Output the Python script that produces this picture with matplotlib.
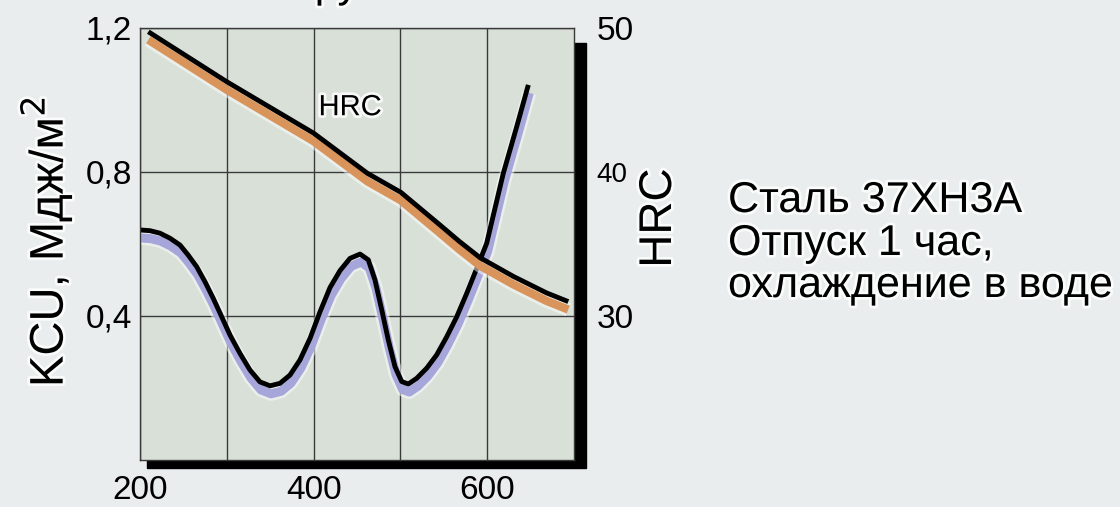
import matplotlib
matplotlib.use('Agg')
import matplotlib.pyplot as plt
import matplotlib.patheffects as pe
from matplotlib.patches import Rectangle
from matplotlib.transforms import offset_copy

plt.rcParams['font.family'] = ['Liberation Sans', 'DejaVu Sans']

# KCU vs tempering temperature
kcu_temp = [200, 211.5, 223, 234.6, 246.1, 255.6, 265.3, 274.9, 284.4, 294.1, 303.7,
            315.2, 326.7, 338.2, 349.8, 361.3, 372.8, 384.3, 395.9, 407.4, 418.9,
            430.4, 441.9, 453.5, 463.0, 470.7, 478.5, 486.1, 493.8, 501.5, 509.1,
            518.8, 530.3, 541.8, 553.3, 564.9, 576.4, 587.9, 599.4, 618.5, 634.0, 647.4]
kcu_vals = [0.639, 0.637, 0.630, 0.616, 0.597, 0.569, 0.537, 0.495, 0.449, 0.398, 0.347,
            0.296, 0.250, 0.217, 0.206, 0.213, 0.236, 0.278, 0.338, 0.412, 0.479,
            0.526, 0.560, 0.572, 0.556, 0.500, 0.417, 0.333, 0.259, 0.218, 0.211,
            0.227, 0.255, 0.292, 0.342, 0.398, 0.463, 0.532, 0.602, 0.796, 0.926, 1.042]

# HRC vs tempering temperature
hrc_temp = [209.6, 299.9, 400.2, 462.0, 500.7, 545.6, 567.5, 591.7, 630.1, 668.5, 693.4]
hrc_vals = [49.74, 46.27, 42.69, 39.91, 38.58, 36.32, 35.20, 34.05, 32.75, 31.6, 31.0]

x_ticks = [200, 400, 600]
x_grid = [300, 500]
y_ticks = [0.4, 0.8, 1.2]
y_labels = ['0,4', '0,8', '1,2']
hrc_ticks = [30, 40, 50]

bg = '#e9eded'
fig = plt.figure(figsize=(11.2, 5.07), dpi=100, facecolor=bg)

# shadow behind plot frame
fig.patches.append(Rectangle((147 / 1120, 39 / 507), 439 / 1120, 425 / 507,
                             transform=fig.transFigure, color='black', zorder=0.5))

ax = fig.add_axes([140 / 1120, 47 / 507, 434 / 1120, 432 / 507])
ax.set_zorder(1)
ax.set_facecolor('#d8e0d8')
ax.set_xlim(200, 700)
ax.set_ylim(0, 1.2)
ax.set_xticks(x_ticks)
ax.set_xticks(x_grid, minor=True)
ax.set_xticklabels(['200', '400', '600'])
ax.set_yticks(y_ticks)
ax.set_yticklabels(y_labels)
ax.grid(True, which='both', color='#3a3a3a', linewidth=1.0)
ax.tick_params(which='both', length=0, labelsize=24)
ax.tick_params(axis='y', pad=6)
ax.tick_params(axis='x', pad=11)
for s in ax.spines.values():
    s.set_color('#3a3a3a')
    s.set_linewidth(1.0)

glow = [pe.withStroke(linewidth=10, foreground='white', alpha=0.5)]

sh = offset_copy(ax.transData, fig=fig, x=1, y=-8, units='dots')
ax.plot(kcu_temp, kcu_vals, color='#a6a6da', lw=6.5, transform=sh,
        solid_capstyle='butt', solid_joinstyle='round', path_effects=glow)
ax.plot(kcu_temp, kcu_vals, color='black', lw=3.5,
        solid_capstyle='butt', solid_joinstyle='round')

ax2 = ax.twinx()
ax2.set_zorder(2)
ax2.set_ylim(20, 50)
ax2.set_yticks(hrc_ticks)
ax2.tick_params(length=0, labelsize=24, pad=16)
for s in ax2.spines.values():
    s.set_visible(False)
ax2.get_yticklabels()[1].set_fontsize(20)

sh2 = offset_copy(ax2.transData, fig=fig, x=0, y=-8, units='dots')
ax2.plot(hrc_temp, hrc_vals, color='#d8945a', lw=6, transform=sh2,
         solid_capstyle='butt', solid_joinstyle='round', path_effects=glow)
ax2.plot(hrc_temp, hrc_vals, color='black', lw=3.5,
         solid_capstyle='butt', solid_joinstyle='round')

halo = [pe.withStroke(linewidth=4, foreground='white', alpha=0.8)]
ax.text(442, 0.98, 'HRC', fontsize=21, ha='center', va='center', zorder=5,
        path_effects=halo)

fig.text(47 / 1120, 1 - 242 / 507, r'KCU, Мдж/м$^{2}$', rotation=90, fontsize=34,
         ha='center', va='center', path_effects=halo)
fig.text(659 / 1120, 1 - 218 / 507, 'HRC', rotation=90, fontsize=33,
         ha='center', va='center', path_effects=halo)

lines = ['Сталь 37ХН3А', 'Отпуск 1 час,', 'охлаждение в воде']
for txt, yb in zip(lines, [212, 255, 297]):
    fig.text(728 / 1120, 1 - yb / 507, txt, fontsize=31, ha='left', va='baseline',
             path_effects=halo)

# cut-off title line at the top edge
fig.text(294 / 1120, 1 + 3 / 507, 'хрупкость', fontsize=30, ha='left',
         va='baseline', path_effects=halo)

fig.savefig('out.png', dpi=100, facecolor=bg)
